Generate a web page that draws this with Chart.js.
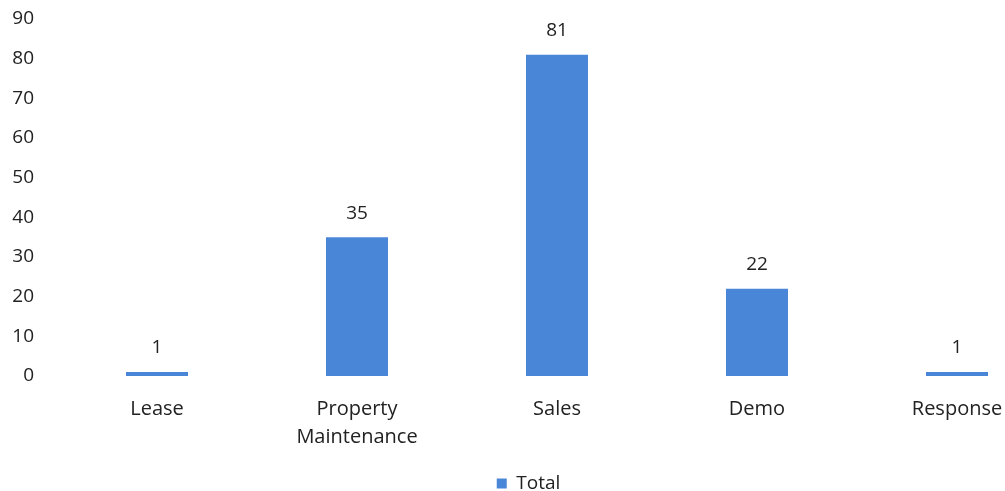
<!DOCTYPE html>
<html><head><meta charset="utf-8">
<script src="https://cdn.jsdelivr.net/npm/chart.js@4"></script>
<style>html,body{margin:0;padding:0;overflow:hidden;background:#fff;width:1005px;height:491px}canvas{display:block}</style>
</head><body>
<canvas id="c" width="1060" height="503"></canvas>
<script>
const categories = [['Lease'], ['Property', 'Maintenance'], ['Sales'], ['Demo'], ['Response']];
const totals = [1, 35, 81, 22, 1];
const yTicks = [0, 10, 20, 30, 40, 50, 60, 70, 80, 90];
const seriesName = 'Total';

const FONT = '"Open Sans", "Liberation Sans", sans-serif';
const labelPlugin = {
  id: 'valueLabels',
  afterDatasetsDraw(chart) {
    const ctx = chart.ctx;
    const meta = chart.getDatasetMeta(0);
    ctx.save();
    ctx.font = '19px ' + FONT;
    ctx.fillStyle = '#222';
    ctx.textAlign = 'center';
    ctx.textBaseline = 'middle';
    meta.data.forEach((bar, i) => {
      ctx.fillText(String(totals[i]), bar.x, bar.y - 24);
    });
    ctx.restore();
  }
};

new Chart(document.getElementById('c'), {
  type: 'bar',
  data: {
    labels: categories,
    datasets: [{
      label: seriesName,
      data: totals,
      backgroundColor: '#4a86d8',
      barPercentage: 0.62,
      categoryPercentage: 0.5
    }]
  },
  options: {
    responsive: false,
    animation: false,
    layout: { padding: { top: 19, right: 3, left: 0, bottom: 0 } },
    plugins: {
      legend: {
        position: 'bottom',
        labels: { boxWidth: 10, boxHeight: 10, color: '#222', font: { family: FONT, size: 19 }, padding: 8 }
      },
      tooltip: { enabled: false }
    },
    scales: {
      y: {
        min: 0, max: 90,
        afterBuildTicks(scale) { scale.ticks = yTicks.map(v => ({ value: v })); },
        afterFit(scale) { scale.width = 57; scale.paddingTop = 0; scale.paddingBottom = 0; },
        grid: { display: false },
        border: { display: false },
        ticks: { color: '#222', font: { family: FONT, size: 19 }, padding: 15 }
      },
      x: {
        grid: { display: false },
        border: { display: false },
        ticks: { color: '#222', font: { family: FONT, size: 20, lineHeight: 1.4 }, padding: 11, maxRotation: 0 },
        afterFit(scale) { scale.height = 90; }
      }
    }
  },
  plugins: [labelPlugin]
});
</script>
</body></html>
